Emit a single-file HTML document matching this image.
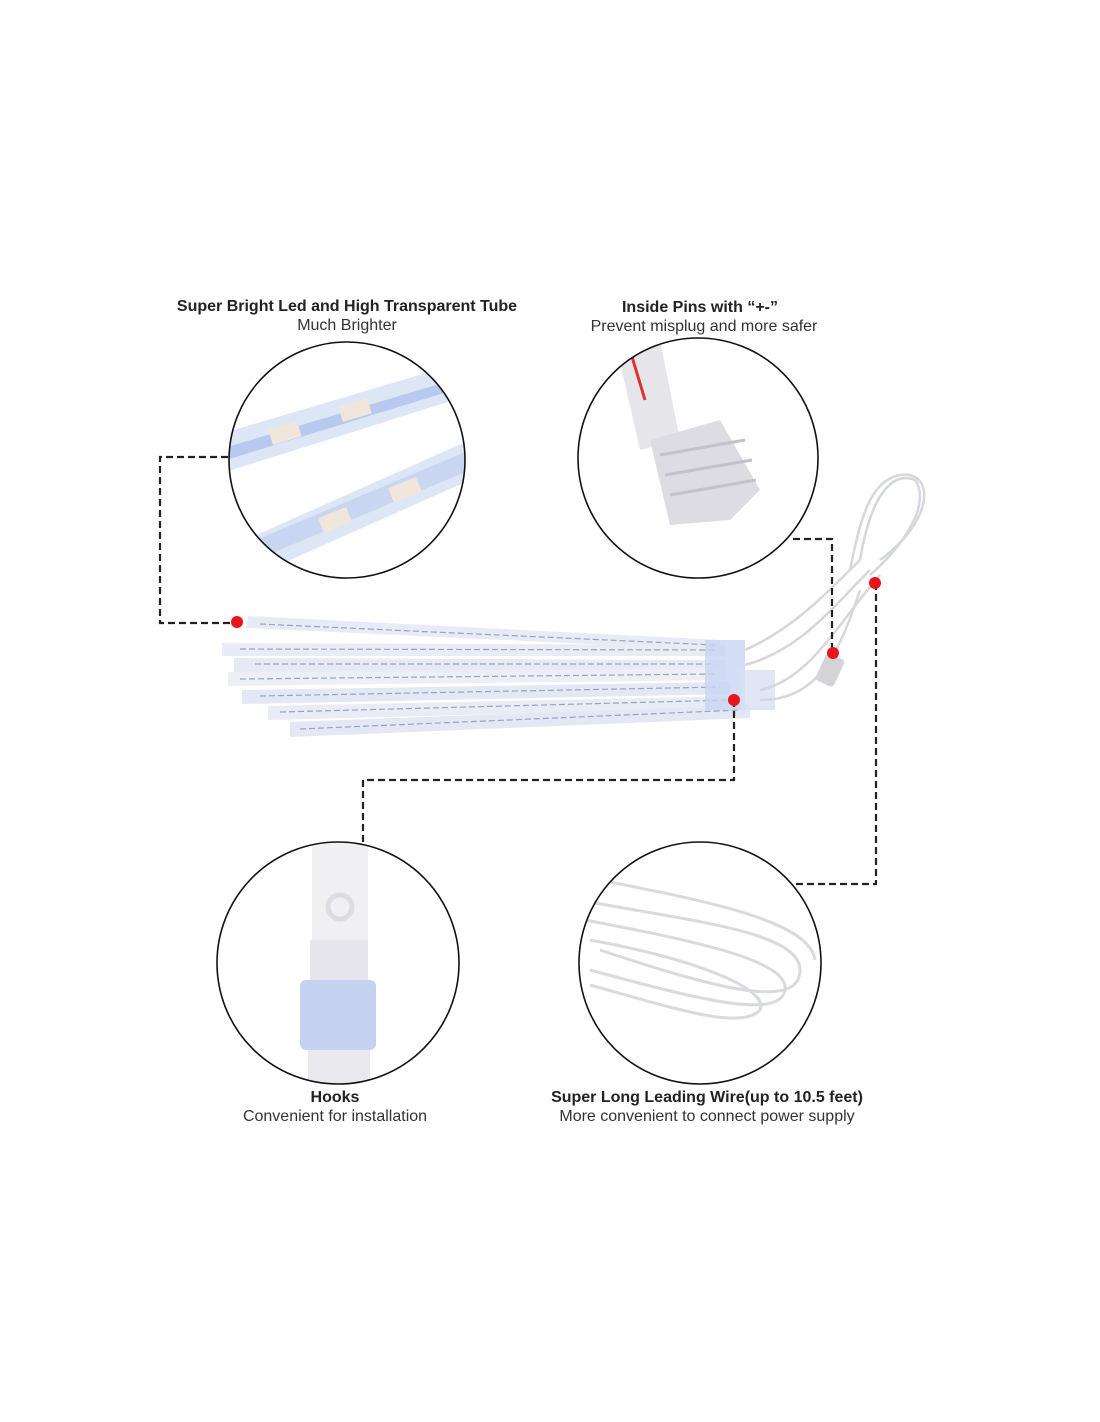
<!DOCTYPE html>
<html><head><meta charset="utf-8"><style>
html,body{margin:0;padding:0;background:#fff}
svg{display:block}
.t{font-family:"Liberation Sans",sans-serif;font-size:16px;font-weight:bold;fill:#222;text-anchor:middle}
.s{font-family:"Liberation Sans",sans-serif;font-size:16px;fill:#333;text-anchor:middle}
.d{stroke:#222;stroke-width:2.2;fill:none;stroke-dasharray:7 4}
</style></head><body>
<svg width="1100" height="1422" viewBox="0 0 1100 1422" xmlns="http://www.w3.org/2000/svg">
<defs>
<clipPath id="c1"><circle cx="347" cy="460" r="118"/></clipPath>
<clipPath id="c2"><circle cx="698" cy="458" r="120"/></clipPath>
<clipPath id="c3"><circle cx="338" cy="963" r="121"/></clipPath>
<clipPath id="c4"><circle cx="700" cy="963" r="121"/></clipPath>
</defs>
<text class="t" x="347" y="311">Super Bright Led and High Transparent Tube</text>
<text class="s" x="347" y="330">Much Brighter</text>
<text class="t" x="700" y="312">Inside Pins with  “+-”</text>
<text class="s" x="704" y="331">Prevent misplug and more safer</text>
<text class="t" x="335" y="1102">Hooks</text>
<text class="s" x="335" y="1121">Convenient for installation</text>
<text class="t" x="707" y="1102">Super Long Leading Wire(up to 10.5 feet)</text>
<text class="s" x="707" y="1121">More convenient to connect power supply</text>

<g clip-path="url(#c1)">
<polygon points="200,440 470,360 470,395 200,480" fill="#dde6f5"/>
<polygon points="200,455 470,375 470,385 200,468" fill="#b7c9ee"/>
<polygon points="200,560 470,440 470,480 200,600" fill="#dde6f5"/>
<polygon points="220,555 470,450 470,470 220,575" fill="#c8d6f2"/>
<rect x="270" y="425" width="30" height="16" fill="#f0e6dc" transform="rotate(-17 285 433)"/>
<rect x="340" y="402" width="30" height="16" fill="#f0e6dc" transform="rotate(-17 355 410)"/>
<rect x="320" y="512" width="30" height="16" fill="#f0e6dc" transform="rotate(-22 335 520)"/>
<rect x="390" y="482" width="30" height="16" fill="#f0e6dc" transform="rotate(-22 405 490)"/>
</g>
<circle cx="347" cy="460" r="118" fill="none" stroke="#111" stroke-width="1.6"/>

<g clip-path="url(#c2)">
<polygon points="615,340 660,340 680,440 640,450" fill="#e6e6ea"/>
<line x1="630" y1="350" x2="645" y2="400" stroke="#d33" stroke-width="3"/>
<path d="M650,440 L720,420 L760,490 L730,520 L670,525 Z" fill="#dcdce2"/>
<path d="M660,455 L745,440 M665,475 L752,460 M670,495 L756,480" stroke="#c2c2ca" stroke-width="3"/>
</g>
<circle cx="698" cy="458" r="120" fill="none" stroke="#111" stroke-width="1.6"/>

<g clip-path="url(#c3)">
<rect x="312" y="840" width="56" height="130" fill="#f0f0f3"/>
<circle cx="340" cy="907" r="12" fill="none" stroke="#dcdce2" stroke-width="5"/>
<rect x="310" y="940" width="58" height="40" fill="#e6e6ec"/>
<rect x="300" y="980" width="76" height="70" rx="6" fill="#c5d2f1"/>
<rect x="308" y="1050" width="62" height="40" fill="#eaeaee"/>
</g>
<circle cx="338" cy="963" r="121" fill="none" stroke="#111" stroke-width="1.6"/>

<g clip-path="url(#c4)" fill="none" stroke="#d8dade" stroke-width="3">
<path d="M580,900 C680,920 800,930 800,970 C800,1010 720,990 600,950"/>
<path d="M585,920 C690,940 790,960 785,990 C780,1020 700,1000 590,970"/>
<path d="M590,940 C700,960 770,990 760,1010 C740,1030 680,1010 590,985"/>
<path d="M600,880 C700,900 810,920 815,960"/>
</g>
<circle cx="700" cy="963" r="121" fill="none" stroke="#111" stroke-width="1.6"/>

<g>
<polygon points="248,616 720,640 720,650 246,628" fill="#e6ebf6"/>
<polygon points="222,643 725,645 725,656 222,656" fill="#e8ecf5"/>
<polygon points="234,658 725,660 725,670 234,672" fill="#e6eaf4"/>
<polygon points="228,672 725,668 725,680 228,686" fill="#eceff6"/>
<polygon points="242,690 730,682 730,694 242,704" fill="#e3e8f5"/>
<polygon points="268,706 740,696 740,708 268,720" fill="#e8ecf5"/>
<polygon points="290,722 750,705 750,718 290,737" fill="#e3e8f4"/>
<path d="M260,624 L715,645 M240,649 L715,650 M255,664 L715,664 M240,679 L715,674 M260,696 L720,687 M280,712 L730,700 M300,729 L740,710" stroke="#9aa3b8" stroke-width="1.2" stroke-dasharray="6 3"/>
<rect x="705" y="640" width="40" height="70" fill="#c8d4f2" opacity="0.8"/>
<rect x="740" y="670" width="35" height="40" fill="#d8e0f3" opacity="0.8"/>
</g>
<g fill="none" stroke="#d5d7dc" stroke-width="2.5">
<path d="M745,650 C790,630 820,600 860,560"/>
<path d="M745,665 C800,650 830,610 870,570"/>
<path d="M760,690 C810,680 840,620 880,575"/>
<path d="M760,700 C820,700 840,650 860,590"/>
<path d="M850,570 C860,520 870,480 900,475 C935,470 935,520 880,560"/>
<path d="M860,560 C870,500 890,470 915,480 C930,500 910,540 870,575"/>
</g>
<rect x="820" y="655" width="20" height="30" rx="4" fill="#d3d3d8" transform="rotate(25 830 670)"/>

<path class="d" d="M228,457 H160 V623 H237"/>
<path class="d" d="M793,539 H832 V653"/>
<path class="d" d="M734,700 V780 H363 V843"/>
<path class="d" d="M876,583 V884 H793"/>
<circle cx="237" cy="622" r="6" fill="#e8161b"/>
<circle cx="833" cy="653" r="6" fill="#e8161b"/>
<circle cx="734" cy="700" r="6" fill="#e8161b"/>
<circle cx="875" cy="583" r="6" fill="#e8161b"/>
</svg>
</body></html>
